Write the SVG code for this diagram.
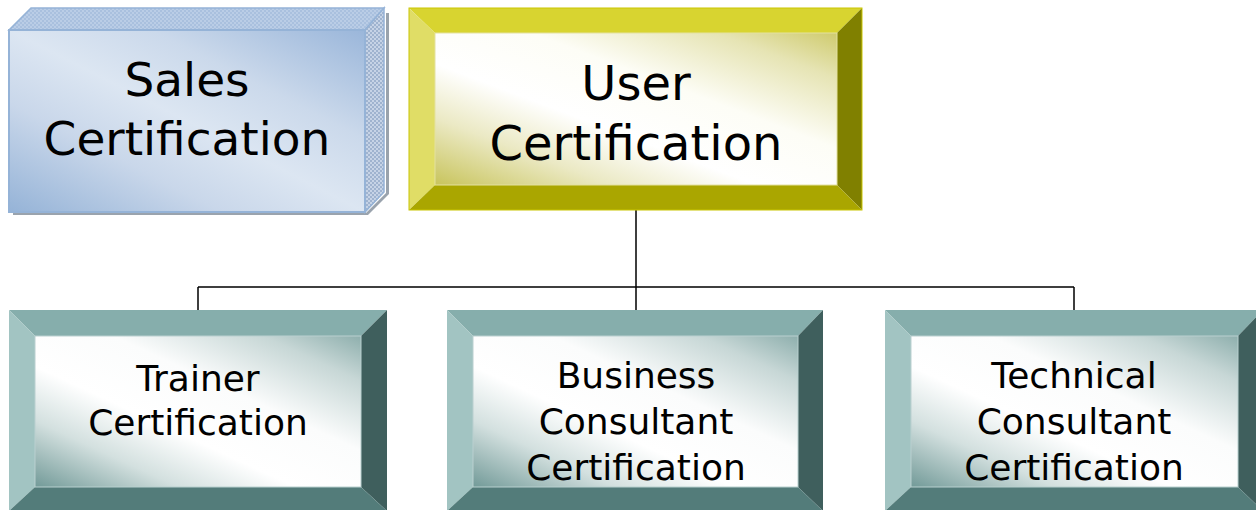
<svg xmlns="http://www.w3.org/2000/svg" width="1256" height="510" viewBox="0 0 1256 510">
<style>
text{font-family:"DejaVu Sans","Verdana",sans-serif;fill:#000;text-anchor:middle}
.big{font-size:47px}
.user{font-size:48px}
.small{font-size:36px}
.conn{fill:none;stroke:#000;stroke-width:1.5}
</style>
<defs>
<linearGradient id="gBlue" x1="0" y1="1" x2="1" y2="0">
<stop offset="0" stop-color="#95b3d7"/>
<stop offset="0.3" stop-color="#c9d7ea"/>
<stop offset="0.5" stop-color="#dce6f2"/>
<stop offset="0.7" stop-color="#cbd9eb"/>
<stop offset="1" stop-color="#9ab6da"/>
</linearGradient>
<linearGradient id="gYel" x1="0" y1="1" x2="1" y2="0">
<stop offset="0" stop-color="#c8c45c"/>
<stop offset="0.22" stop-color="#ebe9c4"/>
<stop offset="0.4" stop-color="#ffffff"/>
<stop offset="0.62" stop-color="#fdfdf6"/>
<stop offset="0.85" stop-color="#e6e4b4"/>
<stop offset="1" stop-color="#cfcb6e"/>
</linearGradient>
<linearGradient id="gTeal" x1="0" y1="1" x2="1" y2="0">
<stop offset="0" stop-color="#729a98"/>
<stop offset="0.22" stop-color="#d3e0df"/>
<stop offset="0.4" stop-color="#ffffff"/>
<stop offset="0.62" stop-color="#fbfcfc"/>
<stop offset="0.85" stop-color="#c7d7d6"/>
<stop offset="1" stop-color="#8eafad"/>
</linearGradient>
<pattern id="pTop" width="4" height="4" patternUnits="userSpaceOnUse">
<rect width="4" height="4" fill="#a9c0de"/>
<rect width="2" height="2" fill="#bacde6"/>
<rect x="2" y="2" width="2" height="2" fill="#bacde6"/>
</pattern>
<pattern id="pSide" width="4" height="4" patternUnits="userSpaceOnUse">
<rect width="4" height="4" fill="#9fb3cf"/>
<rect width="2" height="2" fill="#c6d3e6"/>
<rect x="2" y="2" width="2" height="2" fill="#c6d3e6"/>
</pattern>
</defs>

<g id="connectors">
<path class="conn" d="M636 210 V287 M198 287 H1074 M198 287 V310 M636 287 V310 M1074 287 V310"/>
</g>

<g id="node-sales">
<polygon points="13,215 368,215 389,194 389,13 386,13 386,193 366,213 13,213" fill="#9aa3ad"/>
<polygon points="9,30 31,8 384,8 365,30" fill="url(#pTop)" stroke="#95b3d7" stroke-width="1.5"/>
<polygon points="365,30 384,8 384,192 365,212" fill="url(#pSide)" stroke="#95b3d7" stroke-width="1.5"/>
<rect x="9" y="30" width="356" height="182" fill="url(#gBlue)" stroke="#95b3d7" stroke-width="2"/>
<text class="big" x="187" y="96">Sales</text>
<text class="big" x="187" y="155">Certification</text>
</g>

<g id="node-user">
<polygon points="409,8 862,8 837,33 435,33" fill="#d8d430"/>
<polygon points="409,8 435,33 435,185 409,210" fill="#e0dd66"/>
<polygon points="862,8 862,210 837,185 837,33" fill="#808000"/>
<polygon points="409,210 435,185 837,185 862,210" fill="#aaa600"/>
<rect x="409" y="8" width="453" height="202" fill="none" stroke="#c9c500" stroke-width="1"/>
<rect x="435" y="33" width="402" height="152" fill="url(#gYel)" stroke="#e4e1a0" stroke-width="1"/>
<text class="user" x="636" y="100">User</text>
<text class="user" x="636" y="160">Certification</text>
</g>

<g id="node-trainer">
<polygon points="9,310 387,310 361,336 35,336" fill="#86aeac"/>
<polygon points="9,310 35,336 35,487 9,511" fill="#a2c4c2"/>
<polygon points="387,310 387,511 361,487 361,336" fill="#3f5f5d"/>
<polygon points="9,511 35,487 361,487 387,511" fill="#537c7a"/>
<rect x="35" y="336" width="326" height="151" fill="url(#gTeal)" stroke="#b9d0cf" stroke-width="1"/>
<text class="small" x="198" y="391">Trainer</text>
<text class="small" x="198" y="435">Certification</text>
</g>

<g id="node-business">
<polygon points="447,310 823,310 798,336 473,336" fill="#86aeac"/>
<polygon points="447,310 473,336 473,487 447,511" fill="#a2c4c2"/>
<polygon points="823,310 823,511 798,487 798,336" fill="#3f5f5d"/>
<polygon points="447,511 473,487 798,487 823,511" fill="#537c7a"/>
<rect x="473" y="336" width="325" height="151" fill="url(#gTeal)" stroke="#b9d0cf" stroke-width="1"/>
<text class="small" x="636" y="388">Business</text>
<text class="small" x="636" y="434">Consultant</text>
<text class="small" x="636" y="480">Certification</text>
</g>

<g id="node-technical">
<polygon points="885,310 1263,310 1238,336 911,336" fill="#86aeac"/>
<polygon points="885,310 911,336 911,487 885,511" fill="#a2c4c2"/>
<polygon points="1263,310 1263,511 1238,487 1238,336" fill="#3f5f5d"/>
<polygon points="885,511 911,487 1238,487 1263,511" fill="#537c7a"/>
<rect x="911" y="336" width="327" height="151" fill="url(#gTeal)" stroke="#b9d0cf" stroke-width="1"/>
<text class="small" x="1074" y="388">Technical</text>
<text class="small" x="1074" y="434">Consultant</text>
<text class="small" x="1074" y="480">Certification</text>
</g>
</svg>
